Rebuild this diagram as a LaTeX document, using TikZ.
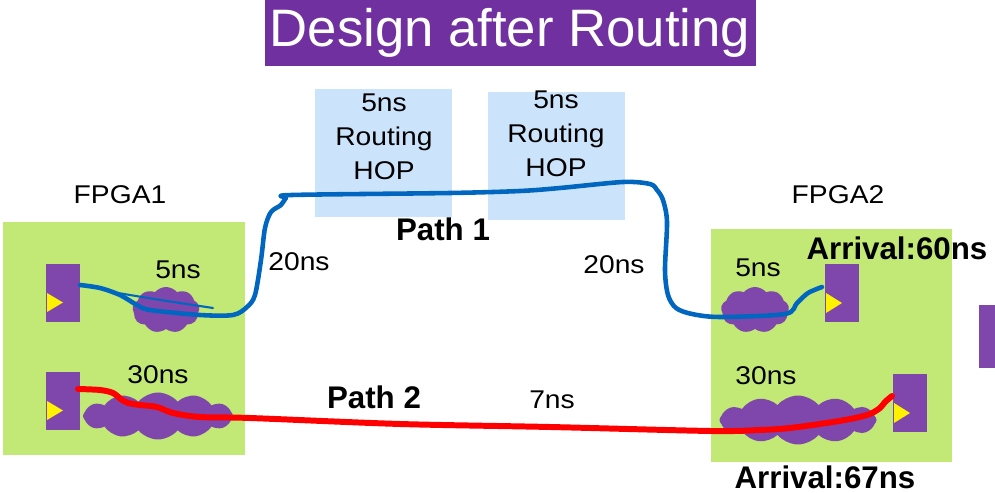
\documentclass[tikz,border=0pt]{standalone}
\usepackage{fontspec}
\setmainfont{Liberation Sans}
\newfontfamily\lblfont{Liberation Sans}[FakeStretch=1.1]
\usetikzlibrary{shapes.symbols,calc}

\definecolor{titlepurple}{RGB}{112,48,160}
\definecolor{hopblue}{RGB}{204,228,251}
\definecolor{fpgagreen}{RGB}{194,232,117}
\definecolor{regpurple}{RGB}{127,70,172}
\definecolor{netblue}{RGB}{0,102,192}
\definecolor{netred}{RGB}{255,0,0}

\tikzset{
  box/.style={draw=none, inner sep=0pt, outer sep=0pt, anchor=north west},
  greenbox/.style={box, fill=fpgagreen},
  hopbox/.style={box, fill=hopblue},
  regbox/.style={box, fill=regpurple, minimum width={34*0.02cm}, minimum height={58*0.02cm}},
  logic/.style={cloud, cloud puffs=#1, cloud puff arc=100, fill=regpurple, draw=none, inner sep=0pt, aspect=3},
  lbl/.style={font=\lblfont\fontsize{14.6pt}{19.3pt}\selectfont, inner sep=0pt, align=center},
  bold/.style={font=\fontsize{17.8pt}{20pt}\selectfont\bfseries, inner sep=0pt},
  clk/.style={fill=yellow, draw=none},
  bluenet/.style={draw=netblue, line width=2.6pt, line cap=round, line join=round},
  rednet/.style={draw=netred, line width=3.4pt, line cap=round, line join=round},
}

\begin{document}
\begin{tikzpicture}[x=0.02cm, y=-0.02cm]
\useasboundingbox (0,0) rectangle (995,493);

% title bar
\node[box, fill=titlepurple, minimum width={491*0.02cm}, minimum height={66*0.02cm}] (titlebar) at (265,0) {};
\node[text=white, font=\fontsize{30pt}{36pt}\selectfont, inner sep=0pt] (title) at (510,33) {Design after Routing};

% routing hops
\node[hopbox, minimum width={137*0.02cm}, minimum height={128*0.02cm}] (hop1) at (315,89) {};
\node[hopbox, minimum width={137*0.02cm}, minimum height={128*0.02cm}] (hop2) at (488,92) {};
\node[lbl] (hop1txt) at (384,137) {5ns\\Routing\\HOP};
\node[lbl] (hop2txt) at (556,134) {5ns\\Routing\\HOP};

% FPGA boards
\node[greenbox, minimum width={242*0.02cm}, minimum height={233*0.02cm}] (fpga1) at (3,222) {};
\node[greenbox, minimum width={241*0.02cm}, minimum height={233*0.02cm}] (fpga2) at (711,229) {};
\node[lbl] (fpga1lbl) at (120,195) {FPGA1};
\node[lbl] (fpga2lbl) at (838,195) {FPGA2};

% combinational logic clouds
\node[logic=9, minimum width={67*0.02cm}, minimum height={46*0.02cm}] (c1) at (166,310) {};
\node[logic=12, minimum width={150*0.02cm}, minimum height={47*0.02cm}] (c2) at (158,416) {};
\node[logic=9, minimum width={68*0.02cm}, minimum height={46*0.02cm}] (c3) at (755,310) {};
\node[logic=12, minimum width={157*0.02cm}, minimum height={49*0.02cm}] (c4) at (798,420) {};

% registers with clock marks
\node[regbox] (ff1) at (46,264) {};
\node[regbox] (ff2) at (46,372) {};
\node[regbox] (ff3) at (825,264) {};
\node[regbox] (ff4) at (893,374) {};
\node[box, fill=regpurple, minimum width={16*0.02cm}, minimum height={63*0.02cm}] (ff5) at (979,305) {};
\fill[clk] (47,293) -- (63,302.5) -- (47,312) -- cycle;
\fill[clk] (47,401) -- (63,410.5) -- (47,420) -- cycle;
\fill[clk] (826,293) -- (842,303) -- (826,313) -- cycle;
\fill[clk] (894,403) -- (910,413) -- (894,423) -- cycle;

% delay labels
\node[lbl] (d1) at (178,270) {5ns};
\node[lbl] (d2) at (158,375) {30ns};
\node[lbl] (d3) at (299,262) {20ns};
\node[lbl] (d4) at (614,265) {20ns};
\node[lbl] (d5) at (758,268) {5ns};
\node[lbl] (d6) at (766,376) {30ns};
\node[lbl] (d7) at (552,400) {7ns};
\node[bold] (p1) at (443,229) {Path 1};
\node[bold] (p2) at (374,397) {Path 2};
\node[bold] (arr1) at (897,248) {Arrival:60ns};
\node[bold] (arr2) at (825,477) {Arrival:67ns};

% path 1 net
\coordinate (b0) at ($(ff1.east)+(0,-8)$);
\coordinate (b1) at ($(ff3.west)+(-3,-6)$);
\draw[bluenet] plot[smooth, tension=0.5] coordinates {
  (b0) (100,288) (120,295) (137,305) (150,310) (200,315) (233,315) (247,307)
  (255,295) (261,260) (265,228) (271,212) (281,205) (286,198) (292,195)
  (450,193) (520,191) (560,188) (623,182) (650,184) (657,190) (663,200)
  (667,222) (665,270) (668,295) (676,308) (692,314) (720,317) (785,314)
  (797,303) (808,293) (b1)};
\draw[draw=netblue, line width=1.2pt, line cap=round] (118,293) .. controls (160,300) .. (213,308);

% path 2 net
\coordinate (r0) at ($(ff2.east)+(-2,-12)$);
\coordinate (r1) at ($(ff4.west)+(-1,-7)$);
\draw[rednet] plot[smooth, tension=0.5] coordinates {
  (r0) (100,390) (113,393) (122,400) (128,403) (140,405) (157,407) (173,413)
  (200,417) (250,418) (400,424) (550,427) (711,431) (760,430) (790,428)
  (833,422) (855,418) (870,414) (880,408) (885,402) (r1)};
\end{tikzpicture}
\end{document}
